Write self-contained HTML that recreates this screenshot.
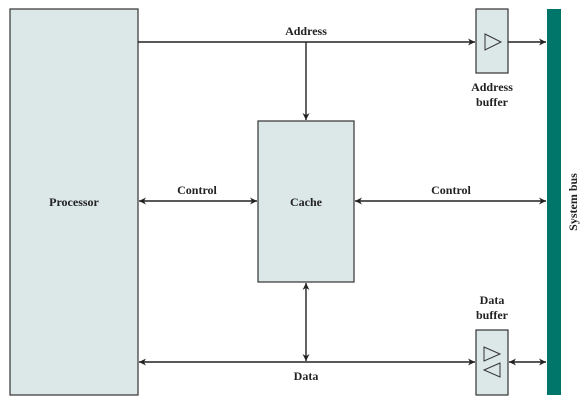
<!DOCTYPE html>
<html><head><style>body{margin:0;background:#fff}</style></head><body>
<svg width="584" height="402" viewBox="0 0 584 402" xmlns="http://www.w3.org/2000/svg" font-family="Liberation Serif, serif" font-weight="bold" font-size="12">
<defs>
<marker id="a" viewBox="0 0 10 10" refX="10" refY="5" markerWidth="9" markerHeight="7" orient="auto-start-reverse" markerUnits="userSpaceOnUse"><path d="M0,0 L10,5 L0,10 L3,5 z" fill="#222"/></marker>
</defs>
<g fill="#dce7e7" stroke="#333" stroke-width="1.2">
<rect x="10" y="9" width="128" height="386"/>
<rect x="258" y="121" width="96" height="161"/>
<rect x="476" y="9" width="32" height="64"/>
<rect x="476" y="330" width="32" height="65"/>
</g>
<rect x="547" y="9" width="14" height="386" fill="#00766a"/>
<g stroke="#222" stroke-width="1.4" fill="none">
<line x1="138" y1="42" x2="475" y2="42" marker-end="url(#a)"/>
<line x1="508" y1="42" x2="546" y2="42" marker-end="url(#a)"/>
<line x1="306" y1="42" x2="306" y2="120" marker-end="url(#a)"/>
<line x1="139" y1="201" x2="257" y2="201" marker-start="url(#a)" marker-end="url(#a)"/>
<line x1="355" y1="201" x2="546" y2="201" marker-start="url(#a)" marker-end="url(#a)"/>
<line x1="306" y1="283" x2="306" y2="361" marker-start="url(#a)" marker-end="url(#a)"/>
<line x1="139" y1="362" x2="475" y2="362" marker-start="url(#a)" marker-end="url(#a)"/>
<line x1="509" y1="362" x2="546" y2="362" marker-start="url(#a)" marker-end="url(#a)"/>
</g>
<g fill="none" stroke="#333" stroke-width="1">
<path d="M485,34 L501,42 L485,50 Z"/>
<path d="M484,347 L500,354 L484,361 Z"/>
<path d="M500,363 L484,370 L500,377 Z"/>
</g>
<g fill="#222" text-anchor="middle">
<text x="306" y="35">Address</text>
<text x="197" y="194">Control</text>
<text x="451" y="194">Control</text>
<text x="306" y="206">Cache</text>
<text x="74" y="206">Processor</text>
<text x="306" y="380">Data</text>
<text x="492" y="91">Address</text>
<text x="492" y="106">buffer</text>
<text x="492" y="304">Data</text>
<text x="492" y="319">buffer</text>
<text transform="translate(577,202) rotate(-90)">System bus</text>
</g>
</svg>
</body></html>
